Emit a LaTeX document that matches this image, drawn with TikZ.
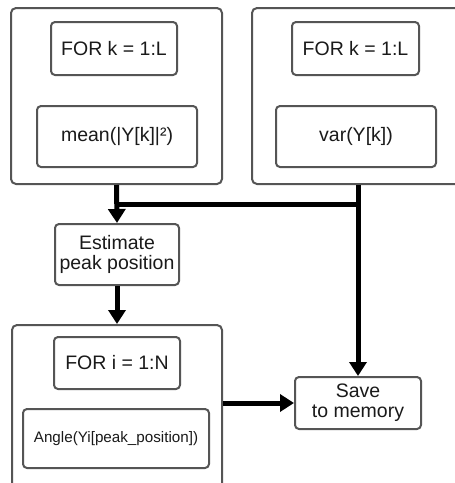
\documentclass[tikz,border=0pt]{standalone}
\usepackage{fontspec}
\setmainfont{Liberation Sans}
\usetikzlibrary{arrows.meta}
\definecolor{edgegray}{HTML}{555555}
\definecolor{txt}{HTML}{1a1a1a}
\tikzset{
  box/.style={draw=edgegray, line width=2pt, rounded corners=4pt, fill=white,
    inner sep=0pt, align=center, text=txt, font=\fontsize{19.5}{20}\selectfont},
  outerbox/.style={draw=edgegray, line width=2pt, rounded corners=5pt, fill=white, inner sep=0pt},
  flow/.style={line width=5pt, draw=black},
  flowarrow/.style={flow, -{Triangle[length=14pt,width=17pt]}},
}
\begin{document}
\begin{tikzpicture}[x=1pt,y=-1pt]
\useasboundingbox (0,0) rectangle (455,483);
\clip (0,0) rectangle (455,483);
% outer boxes
\node[outerbox, minimum width=211pt, minimum height=176pt] (A) at (116.5,96) {};
\node[outerbox, minimum width=212pt, minimum height=176pt] (B) at (358,96) {};
\node[outerbox, minimum width=210pt, minimum height=180pt] (C) at (117,415) {};
% inner boxes
\node[box, minimum width=126pt, minimum height=53pt] (fora) at (114,48.5) {FOR k = 1:L};
\node[box, minimum width=160pt, minimum height=61pt] (mean) at (117,136.5) {mean(|Y[k]|²)};
\node[box, minimum width=127pt, minimum height=53pt] (forb) at (355.5,48.5) {FOR k = 1:L};
\node[box, minimum width=160pt, minimum height=61pt] (var) at (356,136.5) {var(Y[k])};
\node[box, minimum width=124pt, minimum height=61pt] (est) at (117,254.5) {Estimate\\peak position};
\node[box, minimum width=126pt, minimum height=52pt] (fori) at (117,363) {FOR i = 1:N};
\node[box, minimum width=186pt, minimum height=59pt, font=\fontsize{15.2}{17}\selectfont] (ang) at (116,438.5) {Angle(Yi[peak\_position])};
\node[box, minimum width=126pt, minimum height=52pt] (save) at (358,403) {Save\\to memory};
% connectors
\coordinate (j1) at (117,204);
\coordinate (j2) at (358,204);
\draw[flowarrow] (A.south) -- (est.north);
\draw[flow] (j1) -- (j2);
\draw[flowarrow] (B.south) -- (save.north);
\draw[flowarrow] (est.south) -- (C.north);
\draw[flowarrow] (save.west -| C.east) -- (save.west);
\end{tikzpicture}
\end{document}
